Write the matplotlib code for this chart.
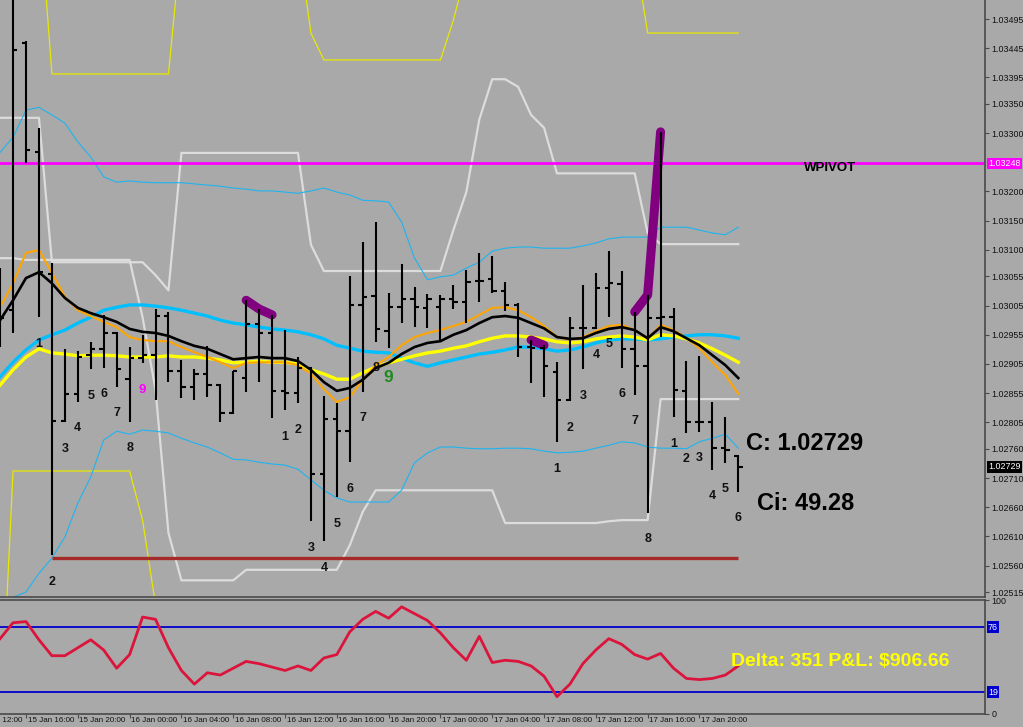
import matplotlib
matplotlib.use("Agg")
import matplotlib.pyplot as plt
import numpy as np
from matplotlib.transforms import blended_transform_factory

plt.rcParams['font.family'] = ['Liberation Sans', 'DejaVu Sans']

BG = '#A9A9A9'

# H1 bars, hour index counted from 15 Jan 12:00
hours = np.arange(2, 60)

bar_open = [1.03014, 1.02997, 1.03454, 1.03268, 1.03059, 1.02807, 1.02854, 1.02920, 1.02931, 1.02958,
            1.02879, 1.02915, 1.02920, 1.02987, 1.02893, 1.02866, 1.02888, 1.02869, 1.02821, 1.02881,
            1.02973, 1.02958, 1.02859, 1.02855, 1.02898, 1.02717, 1.02811, 1.02790, 1.03006, 1.03021,
            1.02961, 1.03002, 1.03016, 1.03001, 1.03002, 1.03016, 1.03011, 1.03047, 1.03050, 1.03030,
            1.03006, 1.02934, 1.02932, 1.02891, 1.02843, 1.02966, 1.02966, 1.03035, 1.03042, 1.02931,
            1.02901, 1.02984, 1.02985, 1.02859, 1.02806, 1.02806, 1.02761, 1.02748]
bar_high = [1.03069, 1.03562, 1.03458, 1.03309, 1.03078, 1.02931, 1.02927, 1.02943, 1.02989, 1.02960,
            1.02934, 1.02955, 1.02999, 1.02994, 1.02912, 1.02896, 1.02936, 1.02871, 1.02893, 1.03014,
            1.02999, 1.02989, 1.02963, 1.02917, 1.02900, 1.02850, 1.02838, 1.03055, 1.03114, 1.03148,
            1.03026, 1.03076, 1.03037, 1.03025, 1.03023, 1.03040, 1.03066, 1.03095, 1.03090, 1.03045,
            1.03009, 1.02946, 1.02937, 1.02908, 1.02985, 1.03040, 1.03061, 1.03098, 1.03064, 1.02994,
            1.03023, 1.03302, 1.03001, 1.02910, 1.02918, 1.02840, 1.02814, 1.02749]
bar_low = [1.02934, 1.02958, 1.03249, 1.02985, 1.02578, 1.02805, 1.02840, 1.02896, 1.02898, 1.02866,
           1.02806, 1.02907, 1.02843, 1.02874, 1.02847, 1.02843, 1.02849, 1.02806, 1.02819, 1.02857,
           1.02874, 1.02813, 1.02826, 1.02838, 1.02636, 1.02602, 1.02677, 1.02737, 1.02857, 1.02943,
           1.02932, 1.02975, 1.02968, 1.02966, 1.02946, 1.02999, 1.02975, 1.03011, 1.03026, 1.02996,
           1.02917, 1.02872, 1.02849, 1.02771, 1.02841, 1.02896, 1.02965, 1.02985, 1.02898, 1.02852,
           1.02650, 1.02951, 1.02814, 1.02787, 1.02789, 1.02724, 1.02736, 1.02686]
bar_close = [1.02984, 1.03442, 1.03271, 1.03062, 1.02807, 1.02854, 1.02917, 1.02931, 1.02958, 1.02896,
             1.02915, 1.02920, 1.02987, 1.02893, 1.02866, 1.02888, 1.02869, 1.02821, 1.02893, 1.02973,
             1.02958, 1.02859, 1.02855, 1.02898, 1.02717, 1.02811, 1.02790, 1.03006, 1.03020, 1.02965,
             1.03002, 1.03016, 1.03002, 1.03016, 1.03016, 1.03011, 1.03045, 1.03047, 1.03030, 1.03006,
             1.02934, 1.02932, 1.02901, 1.02843, 1.02966, 1.02966, 1.03035, 1.03043, 1.02931, 1.02901,
             1.02984, 1.02985, 1.02861, 1.02806, 1.02806, 1.02761, 1.02758, 1.02729]

# moving averages
ma_black = [1.02980, 1.03014, 1.03052, 1.03062, 1.03043, 1.03018, 1.03001, 1.02992, 1.02985, 1.02977,
            1.02965, 1.02960, 1.02958, 1.02953, 1.02944, 1.02936, 1.02931, 1.02922, 1.02913, 1.02915,
            1.02917, 1.02915, 1.02915, 1.02910, 1.02895, 1.02874, 1.02859, 1.02864, 1.02878, 1.02898,
            1.02907, 1.02922, 1.02934, 1.02941, 1.02944, 1.02955, 1.02963, 1.02975, 1.02985, 1.02987,
            1.02984, 1.02975, 1.02966, 1.02951, 1.02948, 1.02949, 1.02958, 1.02965, 1.02968, 1.02963,
            1.02949, 1.02968, 1.02961, 1.02949, 1.02937, 1.02920, 1.02903, 1.02881]
ma_orange = [1.03002, 1.03043, 1.03095, 1.03100, 1.03061, 1.03020, 1.02997, 1.02987, 1.02977, 1.02968,
             1.02951, 1.02946, 1.02944, 1.02944, 1.02934, 1.02925, 1.02917, 1.02908, 1.02898, 1.02907,
             1.02908, 1.02908, 1.02908, 1.02903, 1.02888, 1.02862, 1.02840, 1.02848, 1.02878, 1.02903,
             1.02917, 1.02937, 1.02951, 1.02958, 1.02963, 1.02970, 1.02977, 1.02989, 1.03001, 1.03002,
             1.02997, 1.02985, 1.02970, 1.02951, 1.02946, 1.02951, 1.02961, 1.02970, 1.02972, 1.02963,
             1.02948, 1.02972, 1.02963, 1.02949, 1.02932, 1.02908, 1.02886, 1.02854]
ma_yellow = [1.02869, 1.02895, 1.02917, 1.02931, 1.02924, 1.02922, 1.02919, 1.02920, 1.02920, 1.02919,
             1.02917, 1.02917, 1.02917, 1.02919, 1.02917, 1.02917, 1.02915, 1.02912, 1.02907, 1.02908,
             1.02910, 1.02908, 1.02908, 1.02905, 1.02895, 1.02888, 1.02879, 1.02879, 1.02890, 1.02900,
             1.02907, 1.02913, 1.02919, 1.02924, 1.02927, 1.02932, 1.02936, 1.02943, 1.02949, 1.02953,
             1.02953, 1.02951, 1.02948, 1.02943, 1.02941, 1.02943, 1.02948, 1.02951, 1.02953, 1.02951,
             1.02946, 1.02955, 1.02953, 1.02948, 1.02941, 1.02931, 1.02920, 1.02908]
ma_blue = [1.02883, 1.02908, 1.02929, 1.02946, 1.02955, 1.02963, 1.02975, 1.02985, 1.02997, 1.03002,
           1.03006, 1.03006, 1.03004, 1.03001, 1.02997, 1.02992, 1.02987, 1.02980, 1.02975, 1.02972,
           1.02968, 1.02965, 1.02963, 1.02960, 1.02955, 1.02948, 1.02937, 1.02932, 1.02927, 1.02925,
           1.02924, 1.02915, 1.02907, 1.02901, 1.02907, 1.02912, 1.02917, 1.02922, 1.02925, 1.02929,
           1.02934, 1.02934, 1.02931, 1.02927, 1.02929, 1.02934, 1.02941, 1.02946, 1.02948, 1.02948,
           1.02946, 1.02948, 1.02951, 1.02953, 1.02955, 1.02955, 1.02953, 1.02949]

# bands
band_upper = [1.03267, 1.03293, 1.03339, 1.03344, 1.03331, 1.03317, 1.03285, 1.03259, 1.03225, 1.03216,
              1.03218, 1.03216, 1.03215, 1.03215, 1.03215, 1.03213, 1.03211, 1.03209, 1.03206, 1.03204,
              1.03201, 1.03201, 1.03199, 1.03197, 1.03201, 1.03206, 1.03199, 1.03194, 1.03185, 1.03184,
              1.03182, 1.03148, 1.03086, 1.03049, 1.03054, 1.03057, 1.03069, 1.03079, 1.03098, 1.03103,
              1.03105, 1.03105, 1.03103, 1.03103, 1.03103, 1.03107, 1.03112, 1.03119, 1.03122, 1.03122,
              1.03122, 1.03139, 1.03139, 1.03139, 1.03134, 1.03129, 1.03126, 1.03139]
band_lower = [1.02493, 1.02506, 1.02515, 1.02547, 1.02573, 1.02609, 1.02667, 1.02712, 1.02775, 1.02790,
              1.02785, 1.02792, 1.02790, 1.02787, 1.02778, 1.02770, 1.02763, 1.02753, 1.02742, 1.02741,
              1.02737, 1.02734, 1.02732, 1.02725, 1.02707, 1.02689, 1.02676, 1.02669, 1.02669, 1.02669,
              1.02669, 1.02689, 1.02736, 1.02753, 1.02763, 1.02763, 1.02761, 1.02760, 1.02760, 1.02761,
              1.02761, 1.02760, 1.02756, 1.02753, 1.02754, 1.02756, 1.02761, 1.02766, 1.02772, 1.02770,
              1.02763, 1.02761, 1.02761, 1.02760, 1.02772, 1.02778, 1.02785, 1.02761]

# stepped channels
white_upper = [1.03326, 1.03326, 1.03326, 1.03326, 1.03079, 1.03079, 1.03079, 1.03079, 1.03079, 1.03079,
               1.03079, 1.03079, 1.03057, 1.03031, 1.03266, 1.03266, 1.03266, 1.03266, 1.03266, 1.03266,
               1.03266, 1.03266, 1.03266, 1.03266, 1.03109, 1.03064, 1.03064, 1.03064, 1.03064, 1.03064,
               1.03064, 1.03064, 1.03064, 1.03064, 1.03064, 1.03134, 1.03199, 1.03323, 1.03392, 1.03392,
               1.03379, 1.03331, 1.03309, 1.03231, 1.03231, 1.03231, 1.03231, 1.03231, 1.03231, 1.03231,
               1.03129, 1.03110, 1.03110, 1.03110, 1.03110, 1.03110, 1.03110, 1.03110]
white_lower = [1.03086, 1.03086, 1.03083, 1.03083, 1.03083, 1.03083, 1.03083, 1.03083, 1.03083, 1.03083,
               1.03083, 1.02985, 1.02861, 1.02616, 1.02535, 1.02535, 1.02535, 1.02535, 1.02535, 1.02553,
               1.02553, 1.02553, 1.02553, 1.02553, 1.02553, 1.02553, 1.02553, 1.02595, 1.02652, 1.02689,
               1.02689, 1.02689, 1.02689, 1.02689, 1.02689, 1.02689, 1.02689, 1.02689, 1.02689, 1.02633,
               1.02633, 1.02633, 1.02633, 1.02633, 1.02633, 1.02633, 1.02633, 1.02636, 1.02638, 1.02638,
               1.02638, 1.02845, 1.02845, 1.02845, 1.02845, 1.02845, 1.02845, 1.02845]
yellow_upper = [1.03698, 1.03698, 1.03698, 1.03698, 1.03401, 1.03401, 1.03401, 1.03401, 1.03401, 1.03401,
                1.03401, 1.03401, 1.03401, 1.03401, 1.03630, 1.03630, 1.03630, 1.03630, 1.03630, 1.03630,
                1.03630, 1.03630, 1.03630, 1.03630, 1.03471, 1.03425, 1.03425, 1.03425, 1.03425, 1.03425,
                1.03425, 1.03425, 1.03425, 1.03425, 1.03425, 1.03493, 1.03579, 1.03579, 1.03579, 1.03579,
                1.03579, 1.03579, 1.03579, 1.03579, 1.03579, 1.03579, 1.03579, 1.03579, 1.03579, 1.03613,
                1.03471, 1.03471, 1.03471, 1.03471, 1.03471, 1.03471, 1.03471, 1.03471]
yellow_lower_hours = np.arange(2, 15)
yellow_lower = [1.02262, 1.02722, 1.02722, 1.02722, 1.02722, 1.02722, 1.02722, 1.02722, 1.02722, 1.02722,
                1.02722, 1.02638, 1.02493]

pivot = 1.03248
support = 1.02573
support_from, support_to = 6, 59
last_close = 1.02729

# thick purple lines joining bar highs
purple_runs = [[21, 22, 23], [43, 44], [51, 52, 53]]

# count labels under the bars
counts = [(5, '1'), (6, '2'), (7, '3'), (8, '4'), (9, '5'), (10, '6'), (11, '7'), (12, '8'),
          (24, '1'), (25, '2'), (26, '3'), (27, '4'), (28, '5'), (29, '6'), (30, '7'), (31, '8'),
          (45, '1'), (46, '2'), (47, '3'), (48, '4'), (49, '5'), (50, '6'), (51, '7'), (52, '8'),
          (54, '1'), (55, '2'), (56, '3'), (57, '4'), (58, '5'), (59, '6')]
nines = [(13, '#FF00FF', 9.5, 19.5), (32, '#1E8B1E', 12.5, 21)]

price_ticks = ['1.03495', '1.03445', '1.03395', '1.03350', '1.03300', '1.03200', '1.03150',
               '1.03100', '1.03055', '1.03005', '1.02955', '1.02905', '1.02855', '1.02805',
               '1.02760', '1.02710', '1.02660', '1.02610', '1.02560', '1.02515']

# oscillator (lower panel)
osc = [66, 80, 81, 65, 51, 51, 58, 65, 56, 40, 52, 85, 83, 58, 38, 26, 36, 34, 40, 46,
       44, 41, 38, 42, 38, 49, 52, 72, 83, 90, 84, 94, 88, 82, 71, 58, 47, 68, 45, 47,
       46, 42, 33, 15, 26, 44, 56, 66, 61, 52, 48, 53, 40, 31, 30, 31, 34, 42]
osc_levels = [76, 19]

time_hours = [0, 4, 8, 12, 16, 20, 24, 28, 32, 36, 40, 44, 48, 52, 56]
time_labels = ['15 Jan 12:00', '15 Jan 16:00', '15 Jan 20:00', '16 Jan 00:00', '16 Jan 04:00',
               '16 Jan 08:00', '16 Jan 12:00', '16 Jan 16:00', '16 Jan 20:00', '17 Jan 00:00',
               '17 Jan 04:00', '17 Jan 08:00', '17 Jan 12:00', '17 Jan 16:00', '17 Jan 20:00']

W, H = 1023, 727
fig = plt.figure(figsize=(W / 100, H / 100), dpi=100, facecolor=BG)
ax = fig.add_axes([0, 1 - 597 / H, 985 / W, 597 / H], facecolor=BG)
ax2 = fig.add_axes([0, 1 - 713.7 / H, 985 / W, 113.7 / H], facecolor=BG)

XMIN, XMAX = 1.992, 78.05
spine_c = '#4a4a4a'

# ---- main panel
ax.plot(hours, yellow_upper, color='#E8E800', lw=0.9, zorder=1)
ax.plot(yellow_lower_hours, yellow_lower, color='#E8E800', lw=0.9, zorder=1)
ax.plot(hours, white_upper, color='#DCDCDC', lw=1.6, zorder=1)
ax.plot(hours, white_lower, color='#DCDCDC', lw=1.6, zorder=1)
ax.plot(hours, band_upper, color='#1EB4F0', lw=0.8, zorder=2)
ax.plot(hours, band_lower, color='#1EB4F0', lw=0.8, zorder=2)
ax.hlines(support, support_from, support_to, color='#A52A2A', lw=2.4, zorder=2)
ax.axhline(pivot, color='#FF00FF', lw=2, zorder=2)
ax.plot(hours, ma_blue, color='#00BFFF', lw=2.4, zorder=3)
ax.plot(hours, ma_yellow, color='#FFFF00', lw=2.4, zorder=3)
ax.plot(hours, ma_orange, color='#FFA500', lw=1.5, zorder=3)
ax.plot(hours, ma_black, color='black', lw=1.9, zorder=4)

highs = np.array(bar_high)
for run in purple_runs:
    idx = [h - 2 for h in run]
    ax.plot(run, highs[idx], color='#800080', lw=6.5, solid_capstyle='round', zorder=5)

ax.vlines(hours, bar_low, bar_high, color='black', lw=1.5, zorder=6)
ax.hlines(bar_open, hours - 0.33, hours, color='black', lw=1.5, zorder=6)
ax.hlines(bar_close, hours, hours + 0.33, color='black', lw=1.5, zorder=6)

lows = np.array(bar_low)
for h, t in counts:
    ax.annotate(t, (h, lows[h - 2]), xytext=(0, -19), textcoords='offset points',
                ha='center', va='center', fontsize=9, fontweight='bold', color='#111111', zorder=7)
for h, c, fs, off in nines:
    ax.annotate('9', (h, lows[h - 2]), xytext=(0, -off), textcoords='offset points',
                ha='center', va='center', fontsize=fs, fontweight='bold', color=c, zorder=7)

ax.text(830 / 985, 1 - 168 / 597, 'WPIVOT', transform=ax.transAxes, ha='center', va='center',
        fontsize=9.5, fontweight='bold', color='black', zorder=7)
ax.text(746 / 985, 1 - 443 / 597, 'C: 1.02729', transform=ax.transAxes, ha='left', va='center',
        fontsize=17, fontweight='bold', color='black', zorder=7)
ax.text(757 / 985, 1 - 504 / 597, 'Ci: 49.28', transform=ax.transAxes, ha='left', va='center',
        fontsize=17, fontweight='bold', color='black', zorder=7)

ax.set_xlim(XMIN, XMAX)
ax.set_ylim(1.025065, 1.035275)
ax.set_xticks([])
ax.yaxis.tick_right()
ax.set_yticks([float(t) for t in price_ticks])
ax.set_yticklabels(price_ticks)
ax.tick_params(axis='y', direction='out', length=3, width=0.8, color=spine_c, pad=1.5,
               labelsize=6.4, labelcolor='#111111')
for s in ['left', 'top']:
    ax.spines[s].set_visible(False)
for s in ['right', 'bottom']:
    ax.spines[s].set_color(spine_c)
    ax.spines[s].set_linewidth(1.2)

tr = blended_transform_factory(ax.transAxes, ax.transData)
ax.text(1.003, pivot, '1.03248', transform=tr, ha='left', va='center', fontsize=6.4, color='white',
        bbox=dict(boxstyle='square,pad=0.15', fc='#FF00FF', ec='none'), clip_on=False, zorder=8)
ax.text(1.003, last_close, '1.02729', transform=tr, ha='left', va='center', fontsize=6.4, color='white',
        bbox=dict(boxstyle='square,pad=0.15', fc='black', ec='none'), clip_on=False, zorder=8)

# ---- oscillator panel
for lv in osc_levels:
    ax2.axhline(lv, color='#0000CD', lw=1.3, zorder=1)
ax2.plot(hours, osc, color='#DC143C', lw=2, zorder=2)
ax2.text(731 / 985, 0.4635, 'Delta: 351 P&L: $906.66', transform=ax2.transAxes, ha='left',
         va='center', fontsize=14, fontweight='bold', color='#FFFF00', zorder=3)

ax2.set_xlim(XMIN, XMAX)
ax2.set_ylim(0, 100)
ax2.yaxis.tick_right()
ax2.set_yticks([0, 100])
ax2.set_yticklabels(['0', '100'])
ax2.tick_params(axis='y', direction='out', length=3, width=0.8, color=spine_c, pad=1.5,
                labelsize=6.4, labelcolor='#111111')
tr2 = blended_transform_factory(ax2.transAxes, ax2.transData)
for lv in osc_levels:
    ax2.text(1.003, lv, str(lv), transform=tr2, ha='left', va='center', fontsize=6.4, color='white',
             bbox=dict(boxstyle='square,pad=0.15', fc='#0000CD', ec='none'), clip_on=False)

ax2.set_xticks(time_hours[1:])
ax2.set_xticklabels([])
ax2.tick_params(axis='x', direction='out', length=3, width=0.8, color=spine_c)
trx = blended_transform_factory(ax2.transData, ax2.transAxes)
for h, lab in zip(time_hours, time_labels):
    ax2.text(h + 0.12, -0.025, lab, transform=trx, ha='left', va='top', fontsize=5.8,
             color='#111111', clip_on=False)
ax2.spines['left'].set_visible(False)
for s in ['right', 'bottom', 'top']:
    ax2.spines[s].set_color(spine_c)
    ax2.spines[s].set_linewidth(1.2)

fig.savefig('out.png', dpi=100, facecolor=BG)
